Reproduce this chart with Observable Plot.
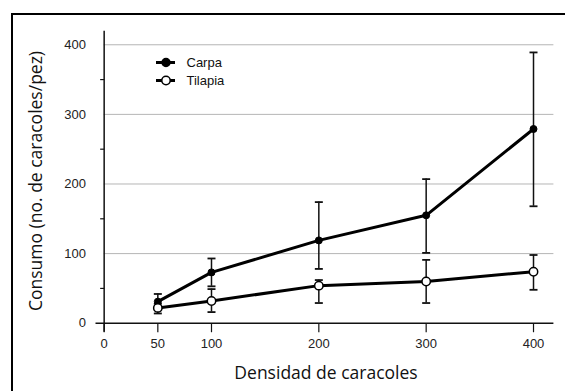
<!DOCTYPE html>
<html><head><meta charset="utf-8">
<script src="https://cdn.jsdelivr.net/npm/d3@7"></script>
<script src="https://cdn.jsdelivr.net/npm/@observablehq/plot@0.6"></script>
<style>
body{margin:0;background:#fff;}
#wrap{position:relative;width:565px;height:391px;overflow:hidden;background:#fff;}
#frame{position:absolute;left:11px;top:13px;width:700px;height:500px;border-left:2px solid #000;border-top:2px solid #000;box-sizing:border-box;pointer-events:none;}
#chart{position:absolute;left:0;top:0;}
.title{position:absolute;font-family:"Open Sans";font-size:17.5px;color:#111;white-space:nowrap;line-height:1;}
#xt{left:326px;top:364px;transform:translateX(-50%);}
#yt{left:36px;top:181px;transform:translate(-50%,-50%) rotate(-90deg);}
#legend{position:absolute;left:150px;top:50px;}
</style></head><body>
<div id="wrap">
  <div id="chart"></div>
  <div id="frame"></div>
  <div class="title" id="xt">Densidad de caracoles</div>
  <div class="title" id="yt">Consumo (no. de caracoles/pez)</div>
  <svg id="legend" width="120" height="45"></svg>
</div>
<script>
const densities=[50,100,200,300,400];
const seriesNames=["Carpa","Tilapia"];
const carpaMean=[31,73,119,155,279];
const carpaLow=[20,53,78,101,168];
const carpaHigh=[42,93,174,207,389];
const tilapiaMean=[22,32,54,60,74];
const tilapiaLow=[14,16,29,29,48];
const tilapiaHigh=[28,49,62,91,98];
const xTicks=[0,50,100,200,300,400];
const yTicks=[0,100,200,300,400];
const yMinorTicks=[50,150,250,350];
const gridValues=[100,200,300,400];

const xDomain=[-7.6,419];
const yDomain=[-12.9,419.5];

const rows=[];
densities.forEach((d,i)=>{
  rows.push({series:"Carpa",x:d,y:carpaMean[i],lo:carpaLow[i],hi:carpaHigh[i]});
});
densities.forEach((d,i)=>{
  rows.push({series:"Tilapia",x:d,y:tilapiaMean[i],lo:tilapiaLow[i],hi:tilapiaHigh[i]});
});
const carpa=rows.filter(r=>r.series==="Carpa");
const tilapia=rows.filter(r=>r.series==="Tilapia");

const capSymbol={draw(ctx){ctx.moveTo(-4,0);ctx.lineTo(4,0);}};
const minorTickSymbol={draw(ctx){ctx.moveTo(-4,0);ctx.lineTo(0,0);}};
const xTickSymbol={draw(ctx){ctx.moveTo(0,0);ctx.lineTo(0,9);}};

const font='"Liberation Sans", Arial, sans-serif';

const plot=Plot.plot({
  width:565,height:391,
  marginLeft:95.5,marginRight:11.6,marginTop:30.7,marginBottom:59.3,
  style:{fontFamily:font,fontSize:"13px",color:"#222",background:"transparent"},
  x:{domain:xDomain},
  y:{domain:yDomain},
  marks:[
    Plot.ruleY(gridValues,{x1:0,x2:xDomain[1],stroke:"#b5b5b5",strokeWidth:1}),
    Plot.ruleY([0],{stroke:"#111",strokeWidth:1.5}),
    Plot.ruleX([0],{stroke:"#111",strokeWidth:1.5}),
    Plot.dot(yMinorTicks,{x:0,y:d=>d,symbol:minorTickSymbol,fill:"none",stroke:"#111",strokeWidth:1.2}),
    Plot.dot(xTicks,{x:d=>d,y:0,symbol:xTickSymbol,fill:"none",stroke:"#111",strokeWidth:1.2}),
    Plot.axisY({ticks:yTicks,tickSize:0,tickPadding:10,label:null,tickFormat:d=>String(d)}),
    Plot.axisX({ticks:xTicks,tickSize:0,tickPadding:7,label:null,tickFormat:d=>String(d)}),
    Plot.ruleX(rows,{x:"x",y1:"lo",y2:"hi",stroke:"#111",strokeWidth:1.5}),
    Plot.dot(rows,{x:"x",y:"lo",symbol:capSymbol,fill:"none",stroke:"#111",strokeWidth:1.8}),
    Plot.dot(rows,{x:"x",y:"hi",symbol:capSymbol,fill:"none",stroke:"#111",strokeWidth:1.8}),
    Plot.line(rows,{x:"x",y:"y",z:"series",stroke:"#000",strokeWidth:3}),
    Plot.dot(carpa,{x:"x",y:"y",r:3.5,fill:"#000",stroke:"#000",strokeWidth:1}),
    Plot.dot(tilapia,{x:"x",y:"y",r:4.2,fill:"#fff",stroke:"#000",strokeWidth:1.5})
  ]
});
document.getElementById("chart").appendChild(plot);

// legend
const lg=d3.select("#legend");
seriesNames.forEach((name,i)=>{
  const y=12.5+i*18;
  lg.append("line").attr("x1",6).attr("x2",25).attr("y1",y).attr("y2",y).attr("stroke","#000").attr("stroke-width",3);
  lg.append("circle").attr("cx",16).attr("cy",y).attr("r",i===0?4:4.2)
    .attr("fill",i===0?"#000":"#fff").attr("stroke","#000").attr("stroke-width",1.5);
  lg.append("text").attr("x",36.5).attr("y",y+4.6).attr("font-family",font).attr("font-size",13).attr("fill","#111").text(name);
});
</script>
</body></html>
